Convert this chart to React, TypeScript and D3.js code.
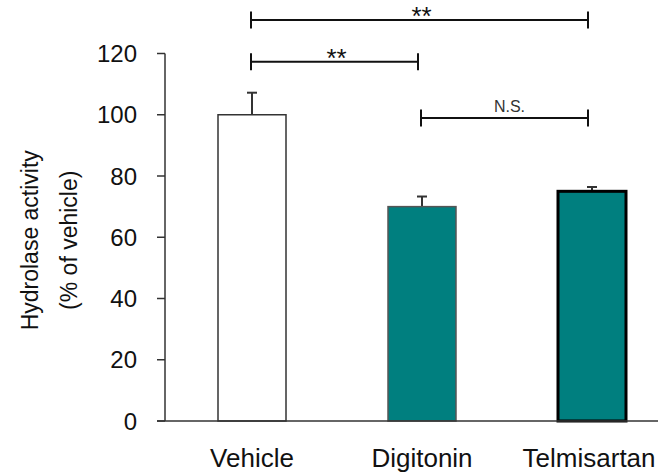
import React from "react";
import * as d3 from "d3";

// Group means and SEM (% of vehicle)
const categories = ["Vehicle", "Digitonin", "Telmisartan"];
const means = [100, 70, 75];
const errors = [7.2, 3.3, 1.4];
const yTicks = [0, 20, 40, 60, 80, 100, 120];

// Significance brackets between groups
const bracketFrom = ["Vehicle", "Vehicle", "Digitonin"];
const bracketTo = ["Telmisartan", "Digitonin", "Telmisartan"];
const bracketLabels = ["**", "**", "N.S."];
const bracketLevels = [130.9, 117.3, 98.9];

const W = 658;
const H = 474;
const FONT = "'Liberation Sans', Arial, Helvetica, sans-serif";
const CAT_FONT = 26;

const fills = ["#ffffff", "#007f7f", "#007f7f"];
const strokes = ["#333333", "#555555", "#000000"];
const strokeWidths = [1.5, 1.5, 3];

export default function App() {
  const y = d3.scaleLinear().domain([0, 120]).range([421, 53.5]);
  const x = d3
    .scaleBand<string>()
    .domain(categories)
    .range([167, 677])
    .paddingInner(0.6)
    .paddingOuter(0.3);
  const bw = x.bandwidth();
  const cx = (c: string) => (x(c) as number) + bw / 2;
  const axisX = 165;

  // keep the right-most category label inside the canvas
  const labelX = (c: string) => {
    const approxHalf = (c.length * CAT_FONT * 0.475) / 2;
    return Math.min(cx(c), W - 1 - approxHalf);
  };

  return (
    <svg
      width={W}
      height={H}
      style={{ position: "absolute", left: 0, top: 0, background: "#fff" }}
      fontFamily={FONT}
    >
      {/* y axis */}
      <line x1={axisX} x2={axisX} y1={y(120)} y2={y(0)} stroke="#333" strokeWidth={1.5} />
      {yTicks.map((t) => (
        <g key={t}>
          <line x1={157} x2={axisX} y1={y(t)} y2={y(t)} stroke="#333" strokeWidth={1.5} />
          <text x={137} y={y(t)} dy="0.36em" textAnchor="end" fontSize={24} fill="#111">
            {t}
          </text>
        </g>
      ))}
      <text
        transform={`translate(38, ${y(60) + 3}) rotate(-90)`}
        textAnchor="middle"
        fontSize={23}
        fill="#111"
      >
        Hydrolase activity
      </text>
      <text
        transform={`translate(77, ${y(60) + 3}) rotate(-90)`}
        textAnchor="middle"
        fontSize={23}
        fill="#111"
      >
        (% of vehicle)
      </text>

      {/* bars with upper error bars */}
      {categories.map((c, i) => {
        const x0 = x(c) as number;
        const top = y(means[i] + errors[i]);
        return (
          <g key={c}>
            <line x1={cx(c)} x2={cx(c)} y1={y(means[i])} y2={top} stroke="#333" strokeWidth={2} />
            <line x1={cx(c) - 5} x2={cx(c) + 5} y1={top} y2={top} stroke="#333" strokeWidth={2} />
            <rect
              x={x0}
              y={y(means[i])}
              width={bw}
              height={y(0) - y(means[i])}
              fill={fills[i]}
              stroke={strokes[i]}
              strokeWidth={strokeWidths[i]}
            />
          </g>
        );
      })}

      {/* x axis */}
      <line x1={157} x2={W} y1={y(0)} y2={y(0)} stroke="#333" strokeWidth={1.5} />
      {categories.map((c) => (
        <text key={c} x={labelX(c)} y={467} textAnchor="middle" fontSize={CAT_FONT} fill="#111">
          {c}
        </text>
      ))}

      {/* significance brackets */}
      {bracketLabels.map((lab, i) => {
        const xa = cx(bracketFrom[i]) - 1;
        const xb = cx(bracketTo[i]) - 4;
        const yy = y(bracketLevels[i]);
        const mid = (xa + xb) / 2;
        const ns = lab === "N.S.";
        return (
          <g key={i}>
            <line x1={xa} x2={xb} y1={yy} y2={yy} stroke="#111" strokeWidth={2} />
            <line x1={xa} x2={xa} y1={yy - 8.5} y2={yy + 8.5} stroke="#111" strokeWidth={2} />
            <line x1={xb} x2={xb} y1={yy - 8.5} y2={yy + 8.5} stroke="#111" strokeWidth={2} />
            <text
              x={mid + (ns ? 5 : 2)}
              y={ns ? yy - 6 : yy + 5}
              textAnchor="middle"
              fontSize={ns ? 16 : 26}
              fill={ns ? "#333" : "#111"}
            >
              {lab}
            </text>
          </g>
        );
      })}
    </svg>
  );
}
